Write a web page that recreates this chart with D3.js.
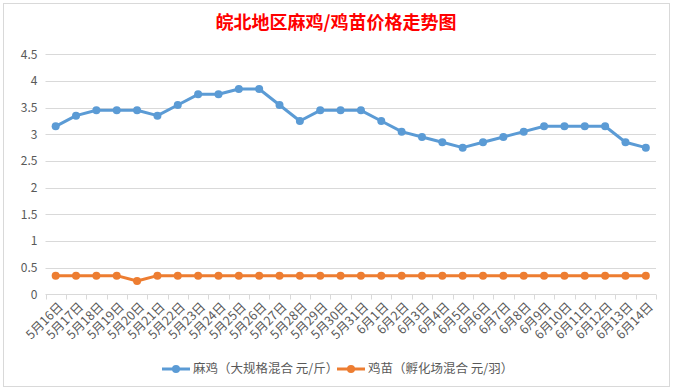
<!DOCTYPE html>
<html><head><meta charset="utf-8">
<script src="https://cdn.jsdelivr.net/npm/d3@7"></script>
<style>
body{margin:0;background:#fff;}
svg{display:block;}
</style></head>
<body>
<svg id="c" width="673" height="391"></svg>
<script>
const categories = ["5月16日","5月17日","5月18日","5月19日","5月20日","5月21日","5月22日","5月23日","5月24日","5月25日","5月26日","5月27日","5月28日","5月29日","5月30日","5月31日","6月1日","6月2日","6月3日","6月4日","6月5日","6月6日","6月7日","6月8日","6月9日","6月10日","6月11日","6月12日","6月13日","6月14日"];
const chickenPrice = [3.15,3.35,3.45,3.45,3.45,3.35,3.55,3.75,3.75,3.85,3.85,3.55,3.25,3.45,3.45,3.45,3.25,3.05,2.95,2.85,2.75,2.85,2.95,3.05,3.15,3.15,3.15,3.15,2.85,2.75];
const chickPrice = [0.35,0.35,0.35,0.35,0.25,0.35,0.35,0.35,0.35,0.35,0.35,0.35,0.35,0.35,0.35,0.35,0.35,0.35,0.35,0.35,0.35,0.35,0.35,0.35,0.35,0.35,0.35,0.35,0.35,0.35];
const yTicks = [0,0.5,1,1.5,2,2.5,3,3.5,4,4.5];
const seriesNames = ["麻鸡（大规格混合 元/斤）","鸡苗（孵化场混合 元/羽）"];
const title = "皖北地区麻鸡/鸡苗价格走势图";

const series = [
  {name: seriesNames[0], values: chickenPrice, color: "#5b9bd5"},
  {name: seriesNames[1], values: chickPrice, color: "#ed7d31"}
];

(function(){
const svg = d3.select("#c");
const pLeft = 45.5, pRight = 656, pTop = 54.3, pBottom = 294.3;
const font = "'Microsoft YaHei','Noto Sans CJK SC','Noto Sans',sans-serif";

// chart border
svg.append("rect").attr("x",3.5).attr("y",3.5).attr("width",666).attr("height",383)
  .attr("fill","#fff").attr("stroke","#d9d9d9");

const x = d3.scaleBand().domain(categories).range([pLeft, pRight]);
const y = d3.scaleLinear().domain([0,4.5]).range([pBottom, pTop]);

// title
svg.append("text").attr("x",336).attr("y",29).attr("text-anchor","middle")
  .attr("font-family","'Noto Sans CJK SC',sans-serif").attr("font-weight","bold")
  .attr("font-size",18).attr("fill","#ff0000").text(title);

// gridlines
svg.append("g").selectAll("line").data(yTicks.filter(d=>d>0)).join("line")
  .attr("x1",pLeft).attr("x2",pRight)
  .attr("y1",d=>Math.round(y(d))+0.5).attr("y2",d=>Math.round(y(d))+0.5)
  .attr("stroke","#d9d9d9").attr("stroke-width",1);

// y axis labels
const yAxis = d3.axisLeft(y).tickValues(yTicks).tickSize(0).tickPadding(8).tickFormat(d=>String(d));
const gy = svg.append("g").attr("transform",`translate(${pLeft},0)`).call(yAxis);
gy.select(".domain").remove();
gy.selectAll("text").attr("font-family",font).attr("font-size",12).attr("fill","#595959");

// x axis
const gx = svg.append("g").attr("transform",`translate(0,${Math.round(pBottom)+0.5})`);
gx.append("line").attr("x1",pLeft).attr("x2",pRight).attr("stroke","#d9d9d9");
const bounds = categories.map(c=>x(c)).concat([pRight]);
gx.selectAll("line.tk").data(bounds).join("line").attr("class","tk")
  .attr("x1",d=>Math.round(d)+0.5).attr("x2",d=>Math.round(d)+0.5)
  .attr("y1",0).attr("y2",5).attr("stroke","#d9d9d9");
gx.selectAll("text").data(categories).join("text")
  .attr("transform",d=>`translate(${x(d)+x.bandwidth()/2+5},${10}) rotate(-45)`)
  .attr("text-anchor","end").attr("dy","0.35em")
  .attr("font-family",font).attr("font-size",12.5).attr("fill","#595959")
  .text(d=>d);

// lines
const line = d3.line().x((d,i)=>x(categories[i])+x.bandwidth()/2).y(d=>y(d));
series.forEach(s=>{
  svg.append("path").datum(s.values).attr("d",line).attr("fill","none")
    .attr("stroke",s.color).attr("stroke-width",3).attr("stroke-linejoin","round").attr("stroke-linecap","round");
  svg.append("g").selectAll("circle").data(s.values).join("circle")
    .attr("cx",(d,i)=>x(categories[i])+x.bandwidth()/2).attr("cy",d=>y(d))
    .attr("r",4).attr("fill",s.color);
});

// legend
const legendX = [162, 337];
series.forEach((s,i)=>{
  const g = svg.append("g").attr("transform",`translate(${legendX[i]},369)`);
  g.append("line").attr("x1",0).attr("x2",28).attr("stroke",s.color).attr("stroke-width",3);
  g.append("circle").attr("cx",14).attr("cy",0).attr("r",4).attr("fill",s.color);
  g.append("text").attr("x",31).attr("y",0).attr("dy","0.35em")
    .attr("font-family",font).attr("font-size",12.5).attr("fill","#595959").text(s.name);
});
})();
</script>
</body></html>
